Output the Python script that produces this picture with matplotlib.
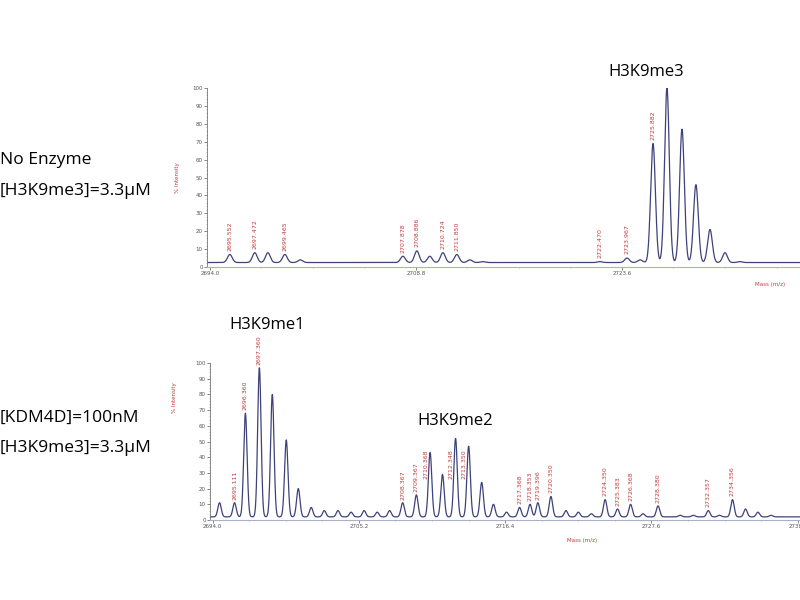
import numpy as np
import matplotlib
matplotlib.use("Agg")
import matplotlib.pyplot as plt

# --- data ---
# top spectrum: no enzyme
top_mass = [2695.44, 2697.23, 2698.17, 2699.39, 2700.50, 2707.87, 2708.87, 2709.80,
            2710.74, 2711.74, 2712.68, 2713.60, 2722.02, 2723.96, 2724.90, 2725.83,
            2726.83, 2727.91, 2728.91, 2729.92, 2731.00, 2732.07]
top_int = [7, 8, 8, 7, 4, 6, 9, 6, 8, 7, 4, 3, 3, 5, 4, 69, 100, 77, 46, 21, 8, 3]
top_labels = ["2695.552", "2697.472", "2699.465", "2707.878", "2708.886", "2710.724",
              "2711.850", "2722.470", "2723.967", "2725.882"]
top_label_mass = [2695.44, 2697.23, 2699.39, 2707.87, 2708.87, 2710.74, 2711.74,
                  2722.02, 2723.96, 2725.83]
top_xticks = [2694.0, 2708.8, 2723.6]

# bottom spectrum: KDM4D 100nM
bot_mass = [2694.53, 2695.68, 2696.51, 2697.58, 2698.57, 2699.64, 2700.56, 2701.55,
            2702.55, 2703.60, 2704.60, 2705.60, 2706.60, 2707.55, 2708.55, 2709.60,
            2710.65, 2711.60, 2712.60, 2713.60, 2714.60, 2715.50, 2716.50, 2717.50,
            2718.30, 2718.90, 2719.90, 2721.05, 2722.00, 2723.00, 2724.05, 2725.00,
            2726.00, 2726.95, 2728.10, 2729.80, 2730.80, 2731.95, 2732.80, 2733.80,
            2734.80, 2735.75, 2736.75]
bot_int = [11, 11, 68, 97, 80, 51, 20, 8, 6, 6, 5, 6, 5, 6, 11, 16, 43, 29, 52, 47,
           24, 10, 5, 8, 10, 11, 15, 6, 5, 4, 13, 7, 10, 4, 9, 3, 3, 6, 3, 13, 7, 5, 3]
bot_labels = ["2695.111", "2696.360", "2697.360", "2708.367", "2709.367", "2710.368",
              "2712.348", "2713.350", "2717.368", "2718.353", "2719.396", "2720.350",
              "2724.350", "2725.383", "2726.368", "2728.380", "2732.357", "2734.356"]
bot_label_mass = [2695.68, 2696.51, 2697.58, 2708.55, 2709.60, 2710.65, 2712.60,
                  2713.60, 2717.50, 2718.30, 2718.90, 2719.90, 2724.05, 2725.00,
                  2726.00, 2728.10, 2731.95, 2733.80]
bot_xticks = [2694.0, 2705.2, 2716.4, 2727.6, 2738.8]

line_col = "#3d4279"
red = "#c23b3b"


def spectrum(ax, masses, heights, lo, hi, sigma, base):
    x = np.linspace(lo, hi, 4000)
    y = np.full_like(x, base)
    for m, h in zip(masses, heights):
        y += (h - base) * np.exp(-0.5 * ((x - m) / sigma) ** 2)
    ax.plot(x, y, color=line_col, lw=0.9)
    return x, y


def style(ax, lo, hi, ticks):
    ax.set_xlim(lo, hi)
    ax.set_ylim(0, 100)
    for s in ["top", "right"]:
        ax.spines[s].set_visible(False)
    ax.spines["left"].set_color("#777777")
    ax.spines["bottom"].set_color("#aab0c8")
    ax.spines["left"].set_linewidth(0.6)
    ax.spines["bottom"].set_linewidth(0.8)
    ax.set_yticks(range(0, 101, 10))
    ax.set_yticklabels([str(v) for v in range(0, 101, 10)])
    ax.set_xticks(ticks)
    ax.set_xticklabels(["%.1f" % t for t in ticks])
    ax.tick_params(axis="both", labelsize=4, length=2, width=0.5, colors="#555555", pad=1)
    ax.minorticks_on()
    ax.tick_params(which="minor", length=1, width=0.4, colors="#888888")
    ax.patch.set_alpha(0)


fig = plt.figure(figsize=(8, 6), dpi=100)
W, H = 800.0, 600.0


def axes_px(left, top, right, bottom):
    return fig.add_axes([left / W, 1 - bottom / H, (right - left) / W, (bottom - top) / H])


# top panel
lo_t = 2694.0 - 0.2
hi_t = 2694.0 + (800 - 210) / 13.92
ax1 = axes_px(207, 88, 800, 267)
spectrum(ax1, top_mass, top_int, lo_t, hi_t, 0.17, 2.5)
style(ax1, lo_t, hi_t, top_xticks)
for m, t in zip(top_label_mass, top_labels):
    h = top_int[top_mass.index(m)]
    ax1.text(m, h + 2, t, rotation=90, fontsize=4.5, color=red, ha="center", va="bottom")
ax1.text(-0.05, 0.5, "% Intensity", transform=ax1.transAxes, rotation=90,
         fontsize=4, color=red, ha="center", va="center")
ax1.text(0.95, -0.1, "Mass (m/z)", transform=ax1.transAxes, fontsize=4,
         color=red, ha="center", va="center")
ax1.text(0.74, 1.09, "H3K9me3", transform=ax1.transAxes, fontsize=12,
         family="Open Sans", ha="center", va="center")

# bottom panel
lo_b = 2694.0 - 0.2
hi_b = 2694.0 + (800 - 210) / 13.12
ax2 = axes_px(210, 363, 800, 520)
spectrum(ax2, bot_mass, bot_int, lo_b, hi_b, 0.13, 2.0)
style(ax2, lo_b, hi_b, bot_xticks)
for m, t in zip(bot_label_mass, bot_labels):
    h = bot_int[bot_mass.index(m)]
    # labels under the H3K9me2 title sit beside the peaks, not above them
    if m > 2705 and h > 26:
        ax2.text(m - 0.32, 26, t, rotation=90, fontsize=4.5, color=red,
                 ha="center", va="bottom")
    else:
        ax2.text(m, h + 2, t, rotation=90, fontsize=4.5, color=red,
                 ha="center", va="bottom")
ax2.text(-0.06, 0.78, "% Intensity", transform=ax2.transAxes, rotation=90,
         fontsize=4, color=red, ha="center", va="center")
ax2.text(0.63, -0.13, "Mass (m/z)", transform=ax2.transAxes, fontsize=4,
         color=red, ha="center", va="center")
ax2.text(0.097, 1.24, "H3K9me1", transform=ax2.transAxes, fontsize=12,
         family="Open Sans", ha="center", va="center")
ax2.text(0.415, 0.63, "H3K9me2", transform=ax2.transAxes, fontsize=12,
         family="Open Sans", ha="center", va="center")

# left side descriptions
fs = 12.5
fig.text(0.0, 1 - 160 / H, "No Enzyme", fontsize=fs, family="Open Sans", va="center")
fig.text(0.0, 1 - 191 / H, "[H3K9me3]=3.3\u03bcM", fontsize=fs, family="Open Sans", va="center")
fig.text(0.0, 1 - 418 / H, "[KDM4D]=100nM", fontsize=fs, family="Open Sans", va="center")
fig.text(0.0, 1 - 448 / H, "[H3K9me3]=3.3\u03bcM", fontsize=fs, family="Open Sans", va="center")

fig.savefig("out.png", dpi=100)
